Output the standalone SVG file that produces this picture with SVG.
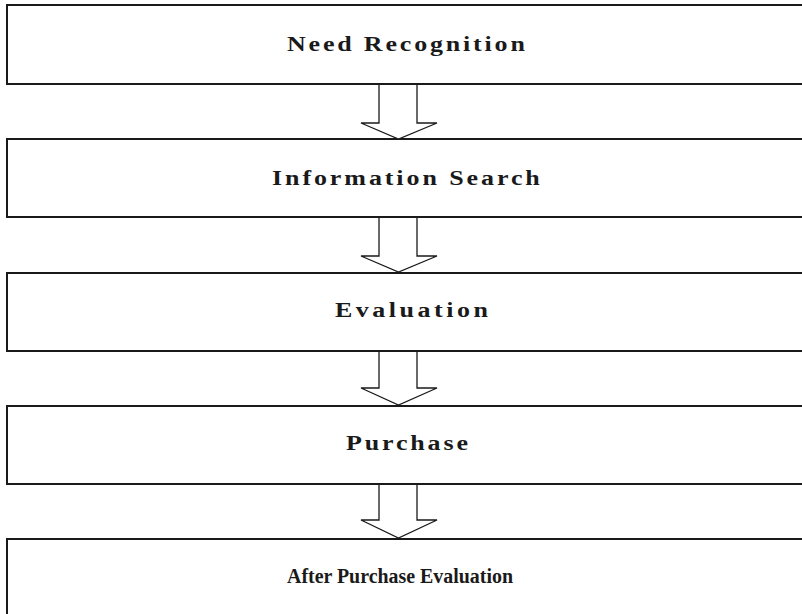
<svg xmlns="http://www.w3.org/2000/svg" width="802" height="614" viewBox="0 0 802 614">
<style>
.box{fill:#fff;stroke:#1a1a1a;stroke-width:2}
.lbl{font-family:"Liberation Serif","Times New Roman",serif;font-weight:bold;font-size:20px;fill:#1a1a1a}
.arr{fill:#fff;stroke:#1a1a1a;stroke-width:1.3;stroke-linejoin:miter}
</style>
<rect width="802" height="614" fill="#fff"/>
<g id="n1"><rect class="box" x="7" y="5" width="820" height="79"/><text class="lbl" transform="translate(287,51) scale(1.3,1)" x="0" y="0" textLength="183" lengthAdjust="spacing">Need Recognition</text></g>
<g id="n2"><rect class="box" x="7" y="139" width="820" height="78"/><text class="lbl" transform="translate(272,185) scale(1.3,1)" x="0" y="0" textLength="206" lengthAdjust="spacing">Information Search</text></g>
<g id="n3"><rect class="box" x="7" y="273" width="820" height="78"/><text class="lbl" transform="translate(335,317) scale(1.3,1)" x="0" y="0" textLength="117.7" lengthAdjust="spacing">Evaluation</text></g>
<g id="n4"><rect class="box" x="7" y="406" width="820" height="78"/><text class="lbl" transform="translate(346,450) scale(1.3,1)" x="0" y="0" textLength="93.8" lengthAdjust="spacing">Purchase</text></g>
<g id="n5"><rect class="box" x="7" y="539" width="820" height="90"/><text class="lbl" x="287" y="583" textLength="226" lengthAdjust="spacingAndGlyphs">After Purchase Evaluation</text></g>
<g id="connectors">
<polyline class="arr" points="379,85 379,123 361,123 398.5,139 437,123 417,123 417,85"/>
<polyline class="arr" points="379,218 379,256 361,256 398.5,272 437,256 417,256 417,218"/>
<polyline class="arr" points="379,352 379,388 361,388 398.5,405 437,388 417,388 417,352"/>
<polyline class="arr" points="379,485 379,520 361,520 398.5,538 437,520 417,520 417,485"/>
</g>
</svg>
